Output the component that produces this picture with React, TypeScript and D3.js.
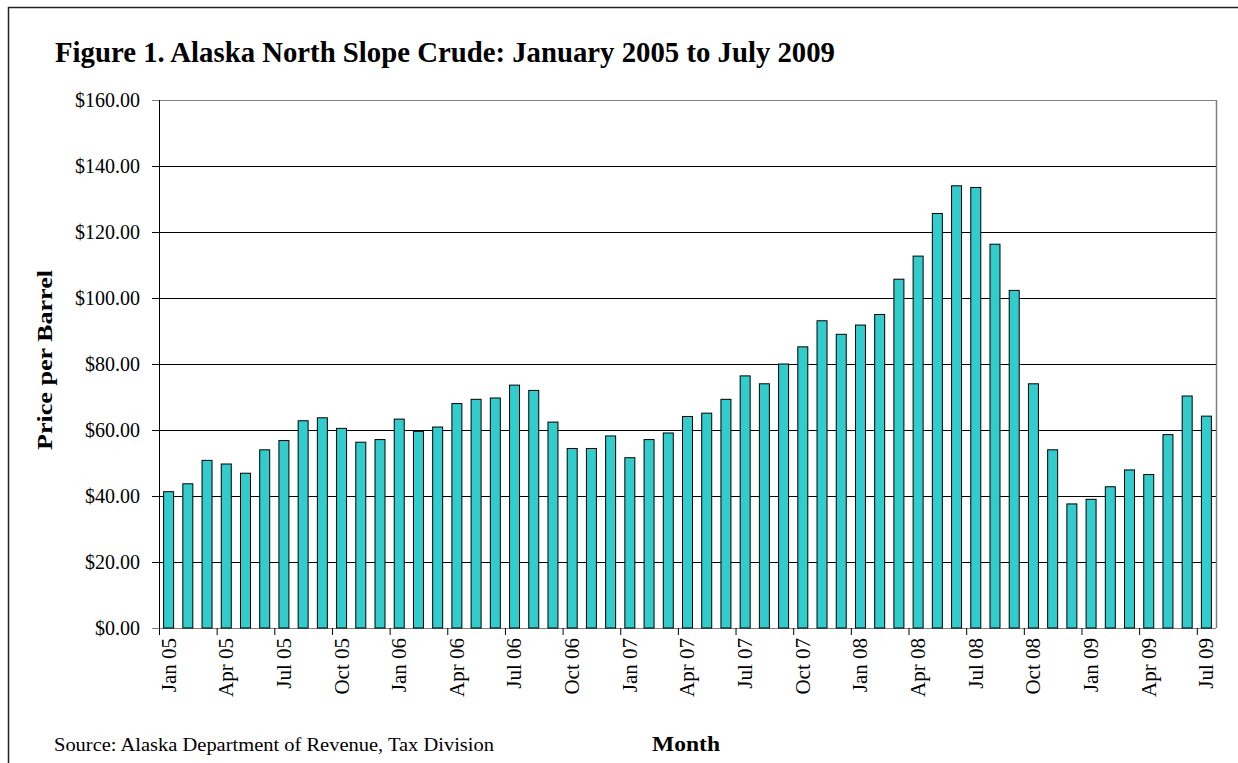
import React from 'react';
import * as d3 from 'd3';

// monthly ANS crude price, $ per barrel
const prices2005 = [41.3, 43.7, 50.8, 49.7, 46.9, 54.0, 56.8, 62.8, 63.7, 60.5, 56.3, 57.1];
const prices2006 = [63.3, 59.6, 60.9, 68.0, 69.3, 69.7, 73.6, 72.0, 62.4, 54.4, 54.4, 58.2];
const prices2007 = [51.6, 57.1, 59.1, 64.1, 65.1, 69.3, 76.4, 74.0, 80.0, 85.2, 93.1, 89.0];
const prices2008 = [91.8, 95.0, 105.7, 112.7, 125.6, 134.0, 133.5, 116.3, 102.3, 74.0, 54.0, 37.6];
const prices2009 = [39.0, 42.8, 47.9, 46.5, 58.6, 70.3, 64.2];

const yTicks = [0, 20, 40, 60, 80, 100, 120, 140, 160];

const title = 'Figure 1. Alaska North Slope Crude: January 2005 to July 2009';
const yTitle = 'Price per Barrel';
const xTitle = 'Month';
const source = 'Source: Alaska Department of Revenue, Tax Division';

const W = 1238;
const H = 763;
const plot = { left: 159, right: 1216, top: 100, bottom: 628 };
const serif = '"Liberation Serif", "Times New Roman", serif';

const months = d3.timeMonths(new Date(2005, 0, 1), new Date(2009, 7, 1));
const fmt = d3.timeFormat('%b %y');
const values = [...prices2005, ...prices2006, ...prices2007, ...prices2008, ...prices2009];
const data = months.map((m, i) => ({ key: fmt(m), month: m.getMonth(), value: values[i] }));

export default function App() {
  const x = d3
    .scaleBand<string>()
    .domain(data.map((d) => d.key))
    .range([plot.left, plot.right])
    .paddingInner(0.48)
    .paddingOuter(0.24);
  const y = d3.scaleLinear().domain([0, 160]).range([plot.bottom, plot.top]);
  const step = x.step();
  // ticks every quarter, at the left edge of the category
  const quarterly = data.filter((d) => d.month % 3 === 0);

  return (
    <svg width={W} height={H} style={{ display: 'block', position: 'absolute', left: 0, top: 0 }} fontFamily={serif}>
      <rect x={0} y={0} width={W} height={H} fill="#fff" />
      <rect x={8.5} y={7.5} width={W + 20} height={H + 20} fill="none" stroke="#222" strokeWidth={1.5} />

      <text x={55} y={62} fontSize={29} fontWeight="bold" fill="#000" textLength={780} lengthAdjust="spacingAndGlyphs">
        {title}
      </text>

      {/* grid */}
      {yTicks.map((t) => (
        <g key={t}>
          <line
            x1={plot.left - 7}
            x2={plot.right}
            y1={Math.round(y(t)) + 0.5}
            y2={Math.round(y(t)) + 0.5}
            stroke={t === 160 || t === 0 ? '#808080' : '#000'}
            strokeWidth={1}
          />
          <text x={140} y={y(t)} dy="0.33em" textAnchor="end" fontSize={20} fill="#000">
            {d3.format('$.2f')(t)}
          </text>
        </g>
      ))}
      <line x1={plot.right + 0.5} x2={plot.right + 0.5} y1={plot.top} y2={plot.bottom} stroke="#808080" strokeWidth={1.5} />

      {/* bars */}
      {data.map((d) => (
        <rect
          key={d.key}
          x={x(d.key)}
          y={y(d.value)}
          width={x.bandwidth()}
          height={y(0) - y(d.value)}
          fill="#33CCCC"
          stroke="#000"
          strokeWidth={1}
        />
      ))}

      {/* axes */}
      <line x1={plot.left + 0.5} x2={plot.left + 0.5} y1={plot.top} y2={plot.bottom} stroke="#000" strokeWidth={1} />
      {quarterly.map((d) => {
        const left = (x(d.key) ?? 0) - step * 0.24;
        const cx = left + step / 2;
        return (
          <g key={d.key}>
            <line x1={left + 0.5} x2={left + 0.5} y1={plot.bottom} y2={plot.bottom + 7} stroke="#000" />
            <text
              transform={`translate(${cx},${plot.bottom + 10}) rotate(-90)`}
              dy="0.33em"
              textAnchor="end"
              fontSize={21}
              fill="#000"
            >
              {d.key}
            </text>
          </g>
        );
      })}

      <text
        transform="translate(45,360) rotate(-90)"
        dy="0.33em"
        textAnchor="middle"
        fontSize={22}
        fontWeight="bold"
        textLength={180}
        lengthAdjust="spacingAndGlyphs"
      >
        {yTitle}
      </text>
      <text x={686} y={751} textAnchor="middle" fontSize={22} fontWeight="bold" textLength={68} lengthAdjust="spacingAndGlyphs">
        {xTitle}
      </text>
      <text x={54} y={751} fontSize={19} textLength={440} lengthAdjust="spacingAndGlyphs">
        {source}
      </text>
    </svg>
  );
}
